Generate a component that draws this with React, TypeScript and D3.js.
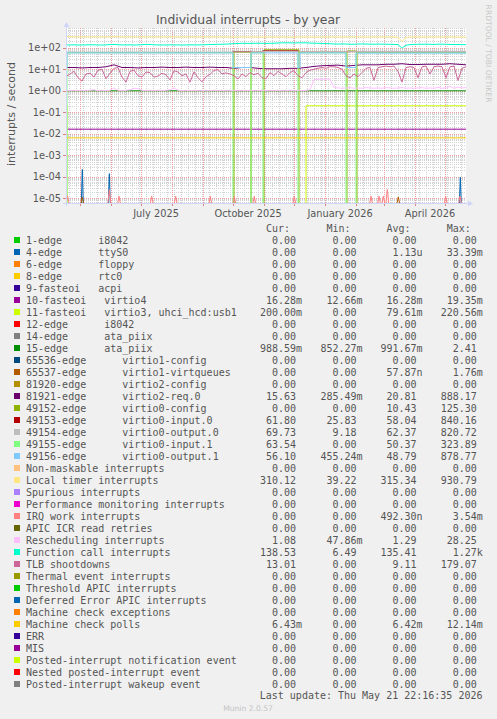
import React from 'react';
import * as d3 from 'd3';

// ---------- data ----------
const START = new Date(2025, 3, 16, 22, 16, 35);
const END = new Date(2026, 4, 21, 22, 16, 35);

const legendLabels = [
  '1-edge      i8042',
  '4-edge      ttyS0',
  '6-edge      floppy',
  '8-edge      rtc0',
  '9-fasteoi   acpi',
  '10-fasteoi   virtio4',
  '11-fasteoi   virtio3, uhci_hcd:usb1',
  '12-edge      i8042',
  '14-edge      ata_piix',
  '15-edge      ata_piix',
  '65536-edge      virtio1-config',
  '65537-edge      virtio1-virtqueues',
  '81920-edge      virtio2-config',
  '81921-edge      virtio2-req.0',
  '49152-edge      virtio0-config',
  '49153-edge      virtio0-input.0',
  '49154-edge      virtio0-output.0',
  '49155-edge      virtio0-input.1',
  '49156-edge      virtio0-output.1',
  'Non-maskable interrupts',
  'Local timer interrupts',
  'Spurious interrupts',
  'Performance monitoring interrupts',
  'IRQ work interrupts',
  'APIC ICR read retries',
  'Rescheduling interrupts',
  'Function call interrupts',
  'TLB shootdowns',
  'Thermal event interrupts',
  'Threshold APIC interrupts',
  'Deferred Error APIC interrupts',
  'Machine check exceptions',
  'Machine check polls',
  'ERR',
  'MIS',
  'Posted-interrupt notification event',
  'Nested posted-interrupt event',
  'Posted-interrupt wakeup event',
];

const legendColors = [
  '#00CC00', '#0066B3', '#FF8000', '#FFCC00', '#330099', '#990099', '#CCFF00', '#FF0000',
  '#808080', '#008F00', '#00487D', '#B35A00', '#B38F00', '#6B006B', '#8FB300', '#B30000',
  '#BEBEBE', '#80FF80', '#80C9FF', '#FFC080', '#FFE680', '#AA80FF', '#EE00CC', '#FF8080',
  '#666600', '#FFBFFF', '#00FFCC', '#CC6699', '#999900', '#00CC00', '#0066B3', '#FF8000',
  '#FFCC00', '#330099', '#990099', '#CCFF00', '#FF0000', '#808080',
];

const curValues = ['0.00', '0.00', '0.00', '0.00', '0.00', '16.28m', '200.00m', '0.00', '0.00', '988.59m', '0.00', '0.00', '0.00', '15.63', '0.00', '61.80', '69.73', '63.54', '56.10', '0.00', '310.12', '0.00', '0.00', '0.00', '0.00', '1.08', '138.53', '13.01', '0.00', '0.00', '0.00', '0.00', '6.43m', '0.00', '0.00', '0.00', '0.00', '0.00'];
const minValues = ['0.00', '0.00', '0.00', '0.00', '0.00', '12.66m', '0.00', '0.00', '0.00', '852.27m', '0.00', '0.00', '0.00', '285.49m', '0.00', '25.83', '9.18', '0.00', '455.24m', '0.00', '39.22', '0.00', '0.00', '0.00', '0.00', '47.86m', '6.49', '0.00', '0.00', '0.00', '0.00', '0.00', '0.00', '0.00', '0.00', '0.00', '0.00', '0.00'];
const avgValues = ['0.00', '1.13u', '0.00', '0.00', '0.00', '16.28m', '79.61m', '0.00', '0.00', '991.67m', '0.00', '57.87n', '0.00', '20.81', '10.43', '58.04', '62.37', '50.37', '48.79', '0.00', '315.34', '0.00', '0.00', '492.30n', '0.00', '1.29', '135.41', '9.11', '0.00', '0.00', '0.00', '0.00', '6.42m', '0.00', '0.00', '0.00', '0.00', '0.00'];
const maxValues = ['0.00', '33.39m', '0.00', '0.00', '0.00', '19.35m', '220.56m', '0.00', '0.00', '2.41', '0.00', '1.76m', '0.00', '888.17', '125.30', '840.16', '820.72', '323.89', '878.77', '0.00', '930.79', '0.00', '0.00', '3.54m', '0.00', '28.25', '1.27k', '179.07', '0.00', '0.00', '0.00', '0.00', '12.14m', '0.00', '0.00', '0.00', '0.00', '0.00'];

const yTickValues = [1e2, 1e1, 1e0, 1e-1, 1e-2, 1e-3, 1e-4, 1e-5];
const yTickLabels = ['1e+02', '1e+01', '1e+00', '1e-01', '1e-02', '1e-03', '1e-04', '1e-05'];
const xLabelDates = [new Date(2025, 6, 16), new Date(2025, 9, 16), new Date(2026, 0, 16), new Date(2026, 3, 16)];
const xLabels = ['July 2025', 'October 2025', 'January 2026', 'April 2026'];

// sampled series (every N days from start)
const timerValues = [330, 322, 318, 320, 316, 320, 318, 322, 318, 316, 320, 318, 322, 320, 318, 316, 320, 318, 322, 318, 316,
  320, 318, 322, 316, 318, 320, 318, 316, 320, 318, 322, 318, 320, 316, 318, 320, 318, 316, 320, 318, 315,
  316, 312, 318, 316, 314, 318, 316, 312, 318, 314, 316, 312, 318, 316, 314, 310, 316, 318, 314, 316, 312,
  316, 318, 314, 316, 318, 314, 316, 318, 320, 316, 318, 314, 316, 318, 316, 314, 318, 316, 318, 316, 300,
  200,
  300, 316, 318, 316, 314, 318, 316, 314, 318, 316, 314, 318, 316, 314, 312, 310];
const functionCallValues = [135, 134, 136, 133, 135, 134, 138, 136, 134, 133, 135, 140, 142, 138, 135, 134, 136, 133, 135, 138, 142, 140, 136, 134, 135, 133, 136, 134, 135, 133, 134, 136, 135, 134, 136, 138, 140, 142, 144, 145, 148, 150,
  155, 158, 160, 160, 158, 160, 162, 160, 158, 160, 162, 165, 168, 170, 168, 166, 168, 170, 168, 165, 162,
  160, 158, 155, 152, 150, 148, 150, 148, 146, 145, 148, 150, 148, 146, 145, 148, 146, 145, 144, 142, 140,
  95,
  130, 140, 142, 144, 145, 146, 144, 142, 145, 146, 144, 142, 140, 141, 139, 138];
const tlbValues = [4.5, 6, 8, 4, 2.8, 6, 6.5, 4.3, 9, 10, 3.6, 6.5, 11, 12, 4.3, 2.5, 8, 9, 5, 4.3, 7.4, 7, 4.3, 4.8, 6.5, 5.5, 3.2, 8.5, 7.4, 5, 6, 2.5, 7.5, 4, 2.6, 4.5, 5.8, 8.8, 9.5, 6, 6.8, 6,
  5, 3.5, 6, 4.5, 7, 5.5, 6.5, 4, 3.6, 7, 5, 8, 6, 4.5, 7, 8.5, 5, 4, 7, 9, 10, 11, 12, 11, 13, 13, 12, 10, 5, 4,
  6, 4.5, 7, 11, 12, 3, 12, 13, 14, 13, 14, 8, 2.5, 12, 13, 12, 4, 13, 14, 6, 13, 14, 13, 4, 13, 14, 3, 11, 13];
const reschedValues = [1.05, 1.0, 1.05, 1.0, 1.05, 1.0, 1.05, 1.1, 1.0, 1.05, 1.0, 1.05,
  1.35, 1.05, 1.0, 1.05, 1.1, 1.3, 1.25, 1.05,
  1.0, 1.05, 1.0, 1.05, 1.0, 1.05, 1.1, 1.35, 1.05,
  1.0, 1.05, 1.0, 1.05, 1.0, 1.0, 1.05, 1.0, 1.05, 1.0, 1.05, 1.0, 1.0, 1.05, 1.0, 1.05, 1.0, 1.05, 1.0, 1.0, 1.05, 1.0, 1.05, 1.0, 1.05, 1.0, 1.0, 1.05, 1.0, 1.05, 1.0, 1.05,
  1.1, 3.3, 3.4, 3.4, 3.5, 3.4, 1.4,
  1.35, 1.3, 1.35, 1.4, 1.3, 1.35, 1.3, 1.4, 1.35, 1.3, 1.35, 1.3, 1.4, 1.35, 1.3, 1.35, 1.4, 1.3, 1.35, 1.3, 1.35, 1.4, 1.3, 1.35, 1.3, 1.45, 1.3, 1.35, 1.6, 1.3, 1.5, 1.35, 1.4];
const virtio2ReqValues = [12, 12, 11.5, 12, 12, 13, 16, 12, 12, 11.5, 12, 12, 12.5, 12, 12, 12.5, 12, 12, 12.5, 12, 12,
  11, 12, 12, 11, 10.5, 10.5, 10.5, 11, 11, 12, 13.5, 14.5, 15, 15.5, 14, 15, 16, 16, 16, 17, 17, 18, 16.5, 16.5, 17, 17, 17, 18, 17, 16];

// step series: [day from start, value]
const irq10Steps: [number, number][] = [[0, 0.01628]];
const irq11Steps: [number, number][] = [[0, 0.22], [1, 0], [240, 0.2]];
const irq15Steps: [number, number][] = [[0, 0.99]];
const q49152Steps: [number, number][] = [[0, 0], [168, 62], [185, 0], [198, 80], [233, 0], [281, 70], [291, 0]];
const q49153Steps: [number, number][] = [[0, 60], [167, 66], [185, 62], [197, 72], [232, 62], [280, 66], [290, 62]];
const q49154Steps: [number, number][] = [[0, 62], [167, 64], [185, 63], [197, 68], [232, 64], [280, 66], [290, 68]];
const q49155Steps: [number, number][] = [[0, 0], [1, 58], [167, 0], [185, 58], [197, 0], [232, 58], [280, 0], [290, 58]];
const q49156Steps: [number, number][] = [[0, 12], [1, 57], [167, 12], [185, 57], [232, 12], [234, 57], [280, 12], [290, 56]];
const mcpSteps: [number, number][] = [[0, 0.00643]];

// spikes: [day from start, value]
const ttyS0Spikes: [number, number][] = [[16.3, 2.2e-4], [43.3, 1.4e-4], [394.3, 9.5e-5]];
const virtqueueSpikes: [number, number][] = [[16.3, 1.15e-5], [332.3, 1.15e-5]];
const irqWorkSpikes: [number, number][] = [[1.5, 1.3e-5], [43.3, 2.5e-5], [53, 1.25e-5], [85.7, 1.25e-5], [109.7, 1.25e-5], [144.3, 1.25e-5], [168.3, 1.25e-5], [188.3, 1.25e-5], [228.3, 1.25e-5], [305, 1.25e-5], [313, 1.25e-5], [317.3, 1.25e-5], [321.3, 2.6e-5], [379.7, 1.25e-5], [394, 1.25e-5]];

// ---------- layout ----------
const W = 497, H = 719;
const PL = 66, PR = 466, PT = 28, PB = 203;
const DAY = 86400000;
const FONT = "'DejaVu Sans', sans-serif";
const MONO = "'DejaVu Sans Mono', monospace";
const TXT = '#555';

export default function App() {
  const x = d3.scaleTime().domain([START, END]).range([PL, PR]);
  const y = d3.scaleLog().domain([Math.pow(10, -5.2185), Math.pow(10, 2.9157)]).range([PB, PT]);
  const dayX = (d: number) => x(new Date(START.getTime() + d * DAY));
  const yv = (v: number) => (v > 0 ? y(v) : PB + 60);

  const sampledPath = (vals: number[], step: number) =>
    d3.line<number>().x((_, i) => dayX(i * step)).y((v) => yv(v))(vals) || '';
  const stepPath = (pts: [number, number][]) => {
    const all = [...pts, [400, pts[pts.length - 1][1]] as [number, number]];
    return d3.line<[number, number]>().curve(d3.curveStepAfter).x((p) => dayX(p[0])).y((p) => yv(p[1]))(all) || '';
  };
  const spikePath = (sp: [number, number][], hw: number) =>
    sp.map(([d, v]) => {
      const cx = dayX(d);
      return `M${cx - hw},${PB + 1}L${cx},${yv(v)}L${cx + hw},${PB + 1}`;
    }).join('');

  // grid
  const [lo, hi] = y.domain();
  const minorY: number[] = [];
  const majorY: number[] = [];
  for (let e = -6; e <= 3; e++) {
    for (let m = 1; m <= 9; m++) {
      const v = m * Math.pow(10, e);
      if (v < lo || v > hi) continue;
      if (m === 1) majorY.push(v); else minorY.push(v);
    }
  }
  const weeks = d3.timeWeek.range(START, END);
  const months = d3.timeMonth.range(START, END);
  const r = (n: number) => Math.round(n) + 0.5;

  const marks: { d: string; color: string }[] = [
    { d: spikePath(ttyS0Spikes, 1), color: legendColors[1] },
    { d: stepPath(irq10Steps), color: legendColors[5] },
    { d: stepPath(irq11Steps), color: legendColors[6] },
    { d: stepPath(irq15Steps), color: legendColors[9] },
    { d: spikePath(virtqueueSpikes, 1.5), color: legendColors[11] },
    { d: sampledPath(virtio2ReqValues, 8), color: legendColors[13] },
    { d: stepPath(q49152Steps), color: legendColors[14] },
    { d: stepPath(q49153Steps), color: legendColors[15] },
    { d: stepPath(q49154Steps), color: legendColors[16] },
    { d: stepPath(q49155Steps), color: legendColors[17] },
    { d: stepPath(q49156Steps), color: legendColors[18] },
    { d: sampledPath(timerValues, 4), color: legendColors[20] },
    { d: spikePath(irqWorkSpikes, 1.5), color: legendColors[23] },
    { d: sampledPath(reschedValues, 4), color: legendColors[25] },
    { d: sampledPath(functionCallValues, 4), color: legendColors[26] },
    { d: sampledPath(tlbValues, 4), color: legendColors[27] },
    { d: stepPath(mcpSteps), color: legendColors[32] },
  ];

  const colEnds = [296, 356.5, 416.6, 476.8];
  const cols = [curValues, minValues, avgValues, maxValues];
  const headers = ['Cur:', 'Min:', 'Avg:', 'Max:'];
  const rowY = (i: number) => 240 + 12 * i;

  const splitVal = (s: string) => (/[a-zA-Z]$/.test(s) ? [s.slice(0, -1), s.slice(-1)] : [s, '']);

  return (
    <svg width={W} height={H} style={{ position: 'absolute', left: 0, top: 0, display: 'block' }} xmlns="http://www.w3.org/2000/svg">
      <defs>
        <clipPath id="plotclip">
          <rect x={PL} y={PT} width={PR - PL + 1} height={PB - PT} />
        </clipPath>
      </defs>
      <rect x={0} y={0} width={W} height={H} fill="#F0F0F0" />
      <rect x={PL} y={PT} width={PR - PL} height={PB - PT} fill="#FFFFFF" />

      {/* title */}
      <text x={248} y={23.6} textAnchor="middle" fontFamily={FONT} fontSize={12.4} fill={TXT}>Individual interrupts - by year</text>
      <text transform={`translate(485.5,53.5) rotate(90)`} textAnchor="middle" fontFamily={FONT} fontSize={7.6} fill="#c8c8c8">RRDTOOL / TOBI OETIKER</text>

      {/* grid */}
      <g strokeWidth={1} shapeRendering="crispEdges">
        {minorY.map((v, i) => (
          <line key={'hy' + i} x1={PL} x2={PR} y1={r(y(v))} y2={r(y(v))} stroke="#d2d2d2" strokeDasharray="1,1" />
        ))}
        {weeks.map((d, i) => (
          <line key={'vx' + i} x1={r(x(d))} x2={r(x(d))} y1={PT} y2={PB} stroke="#d2d2d2" strokeDasharray="1,1" />
        ))}
        {majorY.map((v, i) => (
          <line key={'my' + i} x1={PL} x2={PR} y1={r(y(v))} y2={r(y(v))} stroke="#eea0a0" strokeDasharray="1,1" />
        ))}
        {months.map((d, i) => (
          <line key={'mx' + i} x1={r(x(d))} x2={r(x(d))} y1={PT} y2={PB} stroke="#eea0a0" strokeDasharray="1,1" />
        ))}
        {months.map((d, i) => (
          <line key={'mt' + i} x1={r(x(d))} x2={r(x(d))} y1={PB} y2={PB + 3} stroke="#e08080" />
        ))}
        {majorY.map((v, i) => (
          <line key={'yt' + i} x1={PL - 3} x2={PL} y1={r(y(v))} y2={r(y(v))} stroke="#e08080" />
        ))}
      </g>

      {/* data */}
      <g clipPath="url(#plotclip)" fill="none" strokeWidth={1}>
        {marks.map((m, i) => (
          <path key={i} d={m.d} stroke={m.color} />
        ))}
      </g>

      {/* axes */}
      <g shapeRendering="crispEdges">
        <line x1={PL - 3} x2={PR + 3} y1={PB + 0.5} y2={PB + 0.5} stroke="#CFD6F8" />
        <line x1={PL + 0.5} x2={PL + 0.5} y1={PB + 3} y2={PT - 2} stroke="#CFD6F8" />
      </g>
      <path d={`M${PR + 2},${PB - 2.5}L${PR + 7},${PB + 0.5}L${PR + 2},${PB + 3.5}Z`} fill="#CFD6F8" />
      <path d={`M${PL - 2.5},${PT - 1}L${PL + 0.5},${PT - 6}L${PL + 3.5},${PT - 1}Z`} fill="#CFD6F8" />

      {/* y tick labels */}
      {yTickValues.map((v, i) => (
        <text key={'yl' + i} x={61} y={y(v) + 3.5} textAnchor="end" fontFamily={FONT} fontSize={9.8} fill={TXT}>{yTickLabels[i]}</text>
      ))}
      {xLabelDates.map((d, i) => (
        <text key={'xl' + i} x={x(d)} y={216.5} textAnchor="middle" fontFamily={FONT} fontSize={9.8} fill={TXT}>{xLabels[i]}</text>
      ))}
      <text transform="translate(14.5,114) rotate(-90)" textAnchor="middle" fontFamily={FONT} fontSize={11} fill={TXT}>interrupts / second</text>

      {/* legend */}
      <g fontFamily={MONO} fontSize={10} fill={TXT} style={{ whiteSpace: 'pre' }}>
        {headers.map((h, j) => (
          <text key={'h' + j} x={colEnds[j] - 6} y={231.8} textAnchor="end">{h}</text>
        ))}
        {legendLabels.map((lab, i) => {
          const cy = rowY(i);
          return (
            <g key={'lg' + i}>
              <rect x={14} y={cy - 3} width={6} height={6} fill={legendColors[i]} />
              <text x={26} y={cy + 3.5} xmlSpace="preserve">{lab}</text>
              {cols.map((col, j) => {
                const [num, unit] = splitVal(col[i]);
                return (
                  <g key={'c' + j}>
                    <text x={colEnds[j]} y={cy + 3.5} textAnchor="end">{num}</text>
                    {unit && <text x={colEnds[j]} y={cy + 3.5}>{unit}</text>}
                  </g>
                );
              })}
            </g>
          );
        })}
        <text x={482.5} y={698.8} textAnchor="end">Last update: Thu May 21 22:16:35 2026</text>
      </g>
      <text x={248} y={711} textAnchor="middle" fontFamily={FONT} fontSize={7.6} fill="#c4c4c4">Munin 2.0.57</text>
    </svg>
  );
}
